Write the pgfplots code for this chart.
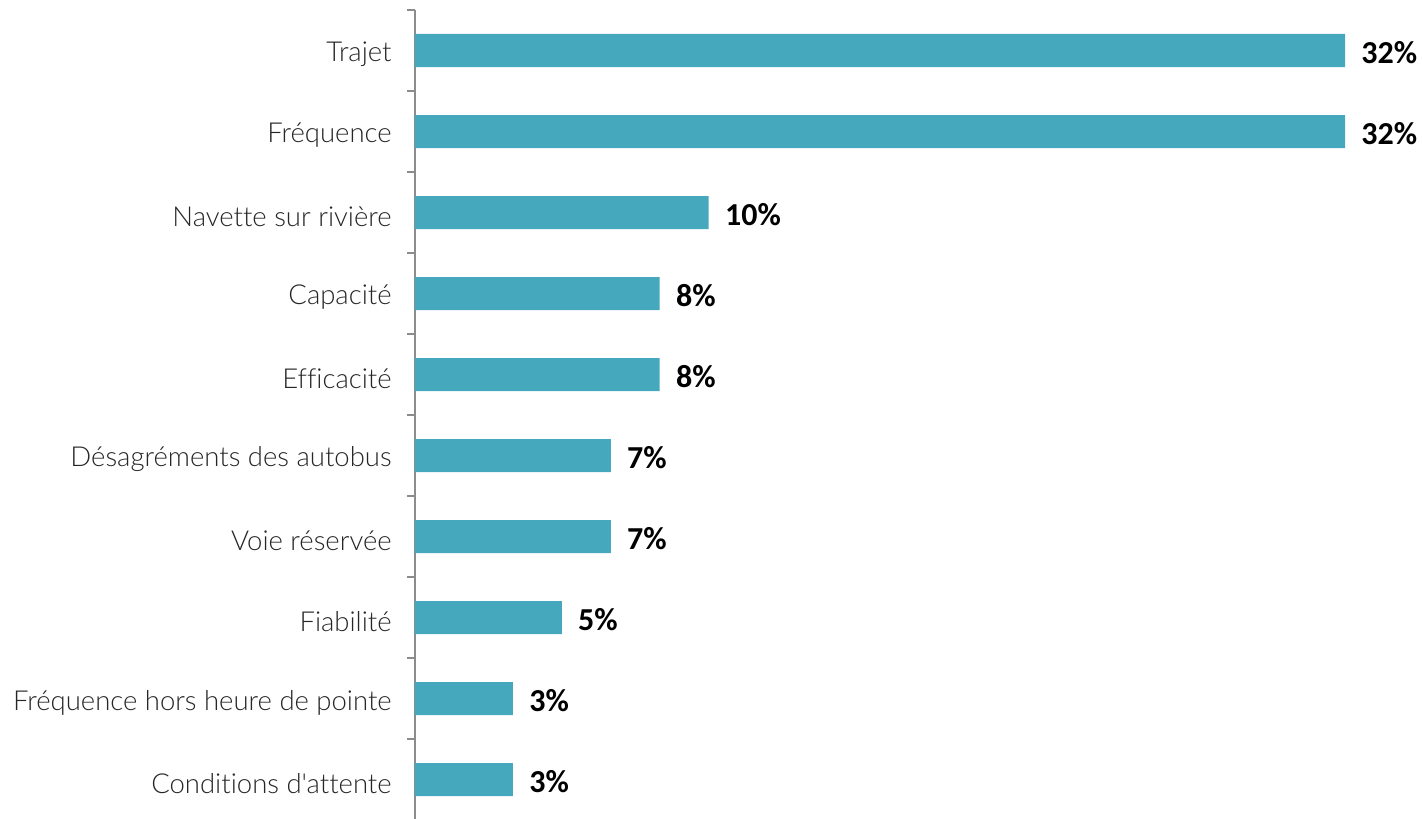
\documentclass[border=0pt]{standalone}
\usepackage{pgfplots}
\pgfplotsset{compat=1.18}
\usepackage{fontspec}
\setmainfont{Carlito}
\newfontfamily\lightfont[Ligatures={NoCommon}]{Lato Light}
\newfontfamily\valfont{Carlito}
\definecolor{barteal}{RGB}{69,168,189}
\definecolor{axgray}{RGB}{140,140,140}
\definecolor{labgray}{RGB}{38,38,38}

\begin{document}
\begin{tikzpicture}
\begin{axis}[
    name=ax,
    xbar,
    scale only axis,
    width=465pt,
    height=405pt,
    xmin=0, xmax=31.667,
    ymin=-0.5, ymax=9.5,
    y dir=reverse,
    axis x line=none,
    axis y line*=left,
    y axis line style={-, draw=axgray, line width=0.6pt},
    ytick={0,...,9},
    yticklabels={Trajet,Fréquence,Navette sur rivière,Capacité,Efficacité,Désagréments des autobus,Voie réservée,Fiabilité,Fréquence hors heure de pointe,Conditions d'attente},
    minor ytick={-0.5,0.5,...,9.5},
    tick align=outside,
    major tick length=0pt,
    minor tick length=4pt,
    minor tick style={draw=axgray, line width=0.6pt},
    yticklabel style={font=\lightfont\fontsize{13.75}{16}\selectfont, text=labgray, inner sep=0pt, xshift=-11.5pt, yshift=-2pt},
    bar width=16.5pt,
    point meta=x,
    nodes near coords={\pgfmathprintnumber[fixed,precision=0]{\pgfplotspointmeta}\%},
    nodes near coords style={font=\valfont\bfseries\fontsize{16}{18}\selectfont, text=black, anchor=west, inner sep=0pt, xshift=8pt, yshift=-1pt},
    /pgf/number format/assume math mode=true,
    clip=false,
]
\addplot[fill=barteal, draw=none] coordinates {
    (31.667,0)
    (31.667,1)
    (10,2)
    (8.333,3)
    (8.333,4)
    (6.667,5)
    (6.667,6)
    (5,7)
    (3.333,8)
    (3.333,9)
};
\end{axis}
\pgfresetboundingbox
\path[use as bounding box] ([xshift=-207.5pt,yshift=1pt]ax.south west) rectangle ([xshift=503.5pt,yshift=410pt]ax.south west);
\end{tikzpicture}
\end{document}
